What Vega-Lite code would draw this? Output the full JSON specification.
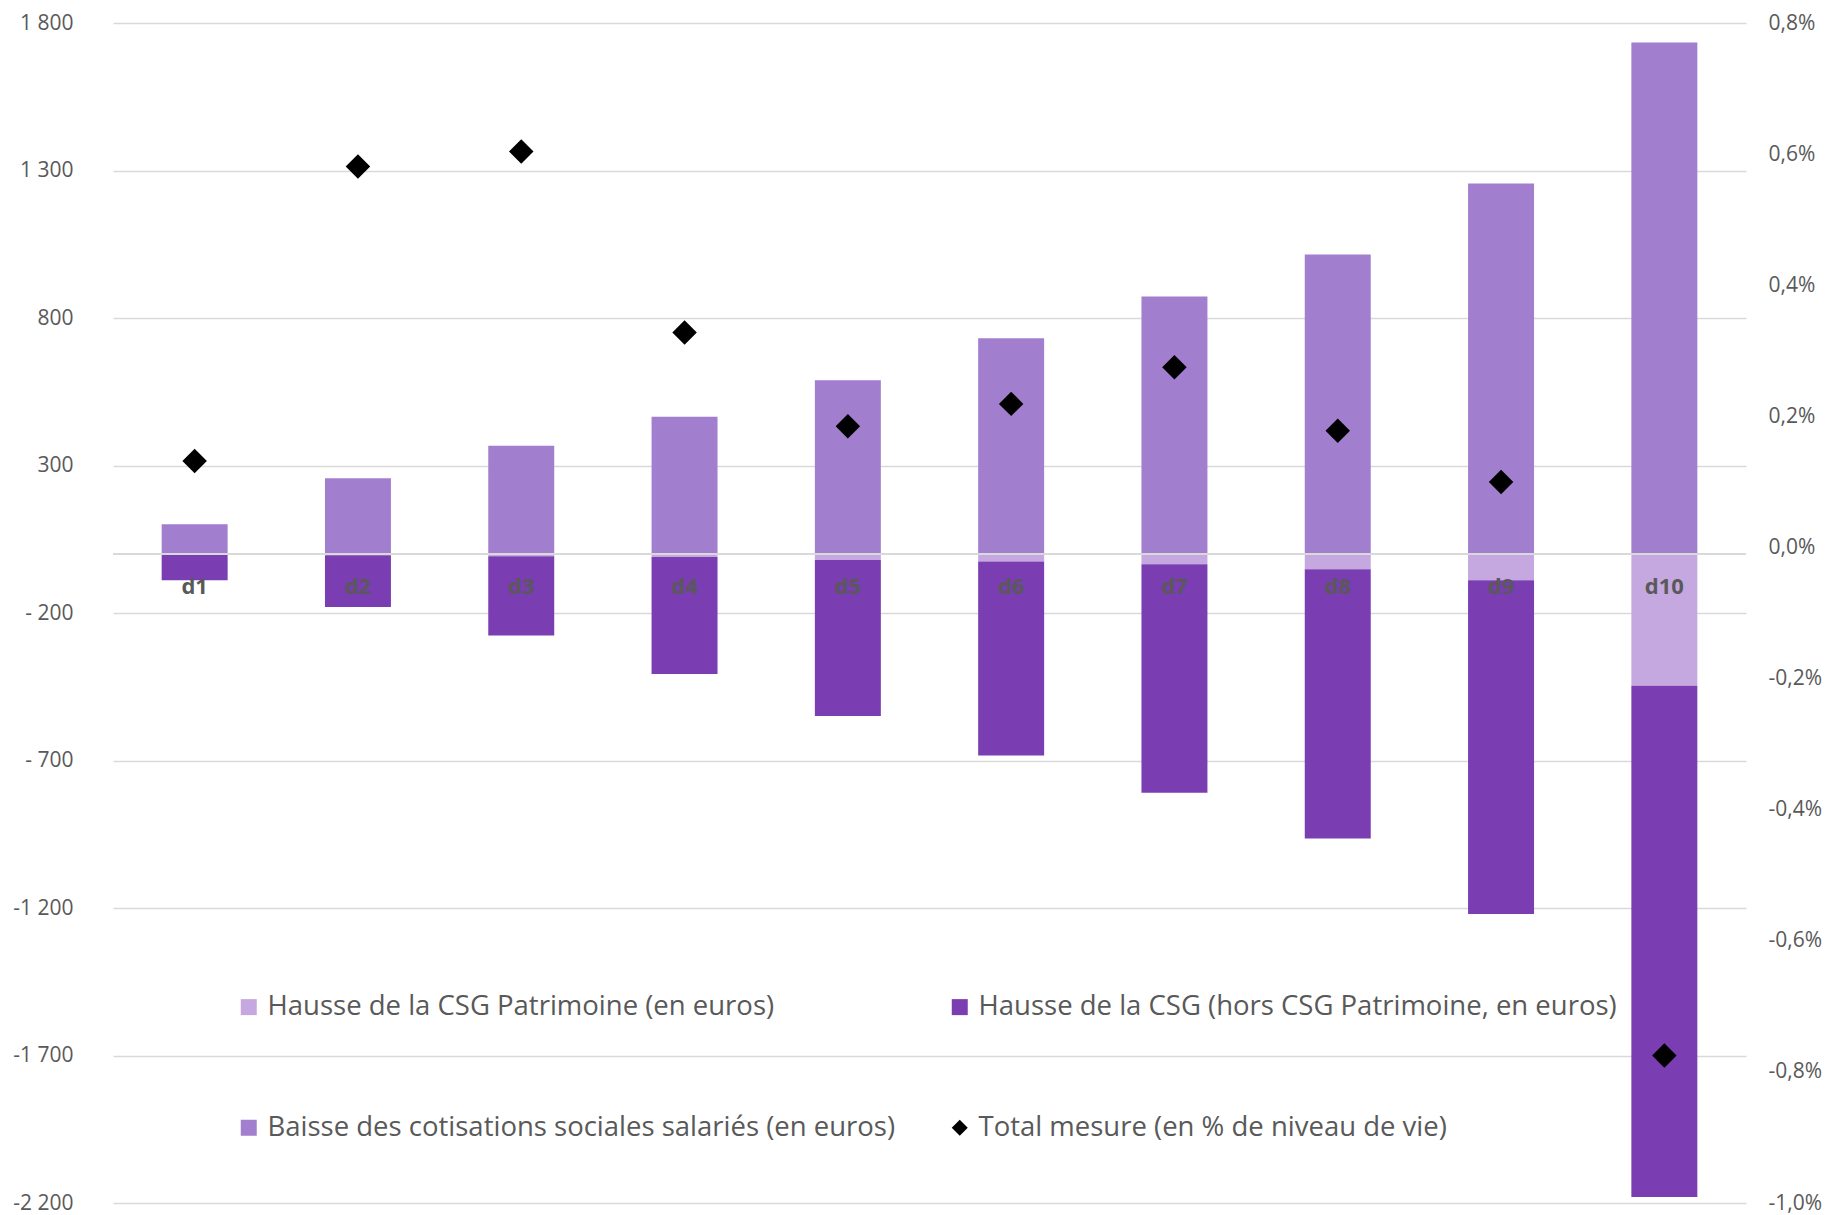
{
  "$schema": "https://vega.github.io/schema/vega-lite/v6.json",
  "width": 1633,
  "height": 1180,
  "autosize": {"type": "none"},
  "padding": {"left": 113, "top": 23, "right": 81, "bottom": 12},
  "background": "white",
  "config": {
    "view": {"stroke": null},
    "font": "Open Sans",
    "axis": {"labelColor": "#595959", "labelFont": "Open Sans", "labelFontSize": 21, "domain": false, "ticks": false, "title": null}
  },
  "datasets": {
    "bars": [
      {"decile": "d1", "serie": "Baisse des cotisations sociales salariés (en euros)", "valeur": 101},
      {"decile": "d2", "serie": "Baisse des cotisations sociales salariés (en euros)", "valeur": 257},
      {"decile": "d3", "serie": "Baisse des cotisations sociales salariés (en euros)", "valeur": 367},
      {"decile": "d4", "serie": "Baisse des cotisations sociales salariés (en euros)", "valeur": 465},
      {"decile": "d5", "serie": "Baisse des cotisations sociales salariés (en euros)", "valeur": 589},
      {"decile": "d6", "serie": "Baisse des cotisations sociales salariés (en euros)", "valeur": 731},
      {"decile": "d7", "serie": "Baisse des cotisations sociales salariés (en euros)", "valeur": 873},
      {"decile": "d8", "serie": "Baisse des cotisations sociales salariés (en euros)", "valeur": 1015},
      {"decile": "d9", "serie": "Baisse des cotisations sociales salariés (en euros)", "valeur": 1256},
      {"decile": "d10", "serie": "Baisse des cotisations sociales salariés (en euros)", "valeur": 1734},
      {"decile": "d1", "serie": "Hausse de la CSG Patrimoine (en euros)", "valeur": -3},
      {"decile": "d2", "serie": "Hausse de la CSG Patrimoine (en euros)", "valeur": -4},
      {"decile": "d3", "serie": "Hausse de la CSG Patrimoine (en euros)", "valeur": -8},
      {"decile": "d4", "serie": "Hausse de la CSG Patrimoine (en euros)", "valeur": -10},
      {"decile": "d5", "serie": "Hausse de la CSG Patrimoine (en euros)", "valeur": -20},
      {"decile": "d6", "serie": "Hausse de la CSG Patrimoine (en euros)", "valeur": -25},
      {"decile": "d7", "serie": "Hausse de la CSG Patrimoine (en euros)", "valeur": -35},
      {"decile": "d8", "serie": "Hausse de la CSG Patrimoine (en euros)", "valeur": -52},
      {"decile": "d9", "serie": "Hausse de la CSG Patrimoine (en euros)", "valeur": -89},
      {"decile": "d10", "serie": "Hausse de la CSG Patrimoine (en euros)", "valeur": -447},
      {"decile": "d1", "serie": "Hausse de la CSG (hors CSG Patrimoine, en euros)", "valeur": -86},
      {"decile": "d2", "serie": "Hausse de la CSG (hors CSG Patrimoine, en euros)", "valeur": -176},
      {"decile": "d3", "serie": "Hausse de la CSG (hors CSG Patrimoine, en euros)", "valeur": -268},
      {"decile": "d4", "serie": "Hausse de la CSG (hors CSG Patrimoine, en euros)", "valeur": -397},
      {"decile": "d5", "serie": "Hausse de la CSG (hors CSG Patrimoine, en euros)", "valeur": -529},
      {"decile": "d6", "serie": "Hausse de la CSG (hors CSG Patrimoine, en euros)", "valeur": -658},
      {"decile": "d7", "serie": "Hausse de la CSG (hors CSG Patrimoine, en euros)", "valeur": -774},
      {"decile": "d8", "serie": "Hausse de la CSG (hors CSG Patrimoine, en euros)", "valeur": -912},
      {"decile": "d9", "serie": "Hausse de la CSG (hors CSG Patrimoine, en euros)", "valeur": -1131},
      {"decile": "d10", "serie": "Hausse de la CSG (hors CSG Patrimoine, en euros)", "valeur": -1733}
    ],
    "total": [
      {"decile": "d1", "serie": "Total mesure (en % de niveau de vie)", "total": 0.132},
      {"decile": "d2", "serie": "Total mesure (en % de niveau de vie)", "total": 0.581},
      {"decile": "d3", "serie": "Total mesure (en % de niveau de vie)", "total": 0.604},
      {"decile": "d4", "serie": "Total mesure (en % de niveau de vie)", "total": 0.328},
      {"decile": "d5", "serie": "Total mesure (en % de niveau de vie)", "total": 0.185},
      {"decile": "d6", "serie": "Total mesure (en % de niveau de vie)", "total": 0.219},
      {"decile": "d7", "serie": "Total mesure (en % de niveau de vie)", "total": 0.275},
      {"decile": "d8", "serie": "Total mesure (en % de niveau de vie)", "total": 0.178},
      {"decile": "d9", "serie": "Total mesure (en % de niveau de vie)", "total": 0.100},
      {"decile": "d10", "serie": "Total mesure (en % de niveau de vie)", "total": -0.775}
    ]
  },
  "layer": [
    {
      "layer": [
        {
          "data": {"name": "bars"},
          "mark": {"type": "bar"},
          "encoding": {
            "x": {"field": "decile", "type": "nominal", "sort": ["d1","d2","d3","d4","d5","d6","d7","d8","d9","d10"], "scale": {"paddingInner": 0.596, "paddingOuter": 0.298}, "axis": null},
            "y": {"field": "valeur", "type": "quantitative", "stack": "zero", "scale": {"domain": [-2200, 1800], "nice": false, "zero": false},
              "axis": {"orient": "left", "values": [-2200,-1700,-1200,-700,-200,300,800,1300,1800], "grid": true, "gridColor": "#d9d9d9", "gridWidth": 1.5, "labelPadding": 40,
                "labelExpr": "(datum.value < 0 ? (abs(datum.value) < 1000 ? '- ' : '-') : '') + (abs(datum.value) >= 1000 ? floor(abs(datum.value)/1000) + ' ' + (abs(datum.value) % 1000) : abs(datum.value))"}},
            "color": {"field": "serie", "type": "nominal",
              "scale": {"domain": ["Hausse de la CSG Patrimoine (en euros)", "Baisse des cotisations sociales salariés (en euros)", "Hausse de la CSG (hors CSG Patrimoine, en euros)", "Total mesure (en % de niveau de vie)"],
                        "range": ["#c5a8df", "#a27ece", "#7a3db2", "#000000"]},
              "legend": {"orient": "none", "legendX": 122, "legendY": 970, "columns": 2, "columnPadding": 50, "rowPadding": 92, "title": null,
                "labelFont": "Open Sans", "labelFontSize": 27.5, "labelColor": "#595959", "symbolSize": 256, "symbolStrokeWidth": 0, "labelOffset": 5, "padding": 0, "labelLimit": 1000}},
            "order": {"field": "serie", "sort": "descending"}
          }
        },
        {
          "data": {"values": [{}]},
          "mark": {"type": "rule", "color": "#d9d9d9", "strokeWidth": 2},
          "encoding": {"y": {"datum": 0}}
        },
        {
          "data": {"name": "total"},
          "mark": {"type": "text", "font": "Open Sans", "fontWeight": "bold", "fontSize": 22, "color": "#595959", "baseline": "middle", "dy": 33},
          "encoding": {
            "x": {"field": "decile", "type": "nominal", "sort": ["d1","d2","d3","d4","d5","d6","d7","d8","d9","d10"]},
            "y": {"datum": 0},
            "text": {"field": "decile"}
          }
        }
      ]
    },
    {
      "data": {"name": "total"},
      "mark": {"type": "point", "filled": true, "size": 600, "opacity": 1},
      "encoding": {
        "x": {"field": "decile", "type": "nominal", "sort": ["d1","d2","d3","d4","d5","d6","d7","d8","d9","d10"]},
        "y": {"field": "total", "type": "quantitative", "scale": {"domain": [-1.0, 0.8], "nice": false, "zero": false},
          "axis": {"orient": "right", "values": [-1.0,-0.8,-0.6,-0.4,-0.2,0,0.2,0.4,0.6,0.8], "grid": false, "labelPadding": 22, "labelAlign": "left",
            "labelExpr": "(datum.value < -0.001 ? '-' : '') + replace(format(abs(datum.value), '.1f'), '.', ',') + '%'"}},
        "color": {"field": "serie", "type": "nominal",
          "scale": {"domain": ["Hausse de la CSG Patrimoine (en euros)", "Baisse des cotisations sociales salariés (en euros)", "Hausse de la CSG (hors CSG Patrimoine, en euros)", "Total mesure (en % de niveau de vie)"],
                    "range": ["#c5a8df", "#a27ece", "#7a3db2", "#000000"]}},
        "shape": {"field": "serie", "type": "nominal",
          "scale": {"domain": ["Hausse de la CSG Patrimoine (en euros)", "Baisse des cotisations sociales salariés (en euros)", "Hausse de la CSG (hors CSG Patrimoine, en euros)", "Total mesure (en % de niveau de vie)"],
                    "range": ["square", "square", "square", "diamond"]}}
      }
    }
  ],
  "resolve": {"scale": {"y": "independent"}}
}
